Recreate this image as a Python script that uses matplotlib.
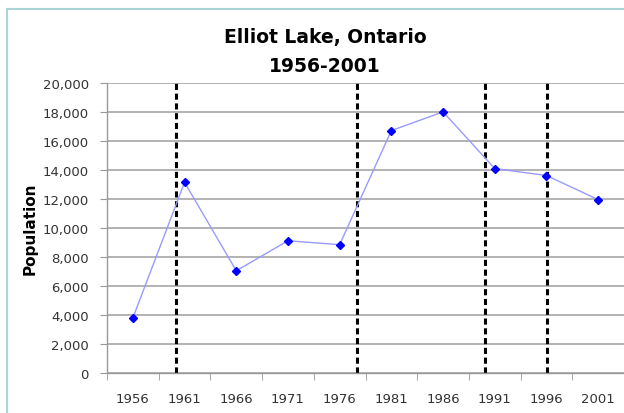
import matplotlib.pyplot as plt
from matplotlib.lines import Line2D
import numpy as np

years = [1956, 1961, 1966, 1971, 1976, 1981, 1986, 1991, 1996, 2001]
population = [3790, 13150, 7050, 9120, 8850, 16720, 18010, 14100, 13620, 11960]
event_years = [1960.2, 1977.7, 1990.1, 1996.1]
y_ticks = list(range(0, 20001, 2000))

fig = plt.figure(figsize=(6.24, 4.14), dpi=100)
ax = fig.add_axes([107 / 624, 1 - 374 / 414, 517 / 624, 290 / 414])

x = np.arange(len(years))
ax.plot(x, population, color='#9a9aff', lw=1.0, zorder=3)
ax.plot(x, population, ls='none', marker='D', ms=4.5, color='#0000ff', zorder=4)

# dashed event lines, placed on the year scale of the category axis
for yr in event_years:
    pos = (yr - years[0]) / 5.0
    ax.axvline(pos, color='black', lw=2.2, ls=(0, (2.0, 1.2)), zorder=2)

ax.set_xlim(-0.5, len(years) - 0.5)
ax.set_ylim(0, 20000)
ax.set_yticks(y_ticks)
ax.set_yticklabels([f'{v:,}' for v in y_ticks])
ax.yaxis.grid(True, color='#a6a6a6', lw=1.2)
ax.set_axisbelow(True)

# category axis: labels at centers, tick marks between categories
ax.set_xticks(x)
ax.set_xticklabels([str(y) for y in years])
ax.set_xticks(np.arange(-0.5, len(years), 1.0), minor=True)
ax.tick_params(axis='x', which='major', length=0, pad=14, labelsize=9.5, labelcolor='#333333')
ax.tick_params(axis='x', which='minor', length=5, color='#999999', direction='out')
ax.tick_params(axis='y', length=5, color='#999999', pad=8, labelsize=9.5, labelcolor='#333333')

for s in ['top', 'right']:
    ax.spines[s].set_visible(False)
for s in ['left', 'bottom']:
    ax.spines[s].set_color('#999999')
    ax.spines[s].set_linewidth(1.0)

ax.set_ylabel('Population', fontsize=11, fontweight='bold')
ax.yaxis.set_label_coords(-0.135, 0.5)

fig.text(325 / 624, 1 - 37 / 414, 'Elliot Lake, Ontario', ha='center', va='center',
         fontsize=13.5, fontweight='bold')
fig.text(325 / 624, 1 - 67 / 414, '1956-2001', ha='center', va='center',
         fontsize=13.5, fontweight='bold')

# chart frame: only the left and top edges are inside the picture
fx, fy = 7 / 624, 1 - 10 / 414
fig.add_artist(Line2D([fx, fx], [-0.01, fy], transform=fig.transFigure, color='#a9d5d5', lw=1.5))
fig.add_artist(Line2D([fx, 1.01], [fy, fy], transform=fig.transFigure, color='#a9d5d5', lw=1.5))

fig.savefig('out.png', dpi=100)
